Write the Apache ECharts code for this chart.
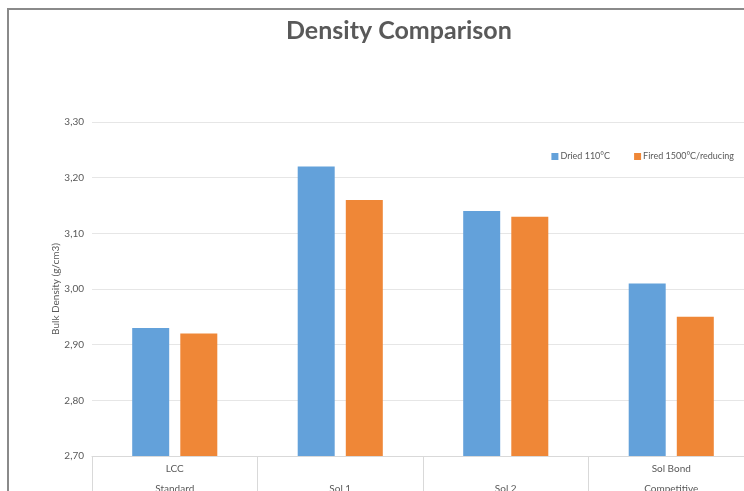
<!DOCTYPE html>
<html>
<head>
<meta charset="utf-8">
<script src="https://cdn.jsdelivr.net/npm/echarts@6/dist/echarts.min.js"></script>
<style>
  html, body { margin: 0; padding: 0; background: #fff; overflow: hidden; }
  #chart { width: 754px; height: 491px; }
</style>
</head>
<body>
<div id="chart"></div>
<script>
const categories = ["LCC\n\nStandard", "\n\nSol 1", "\n\nSol 2", "Sol Bond\n\nCompetitive"];
const dried = [2.93, 3.22, 3.14, 3.01];
const fired = [2.92, 3.16, 3.13, 2.95];
const seriesNames = ["Dried 110°C", "Fired 1500°C/reducing"];

const textColor = "#595959";
const fontFamily = "Lato, 'Open Sans', sans-serif";

const chart = echarts.init(document.getElementById("chart"));

chart.setOption({
  animation: false,
  color: ["#63A1DA", "#EF8737"],
  textStyle: { fontFamily: fontFamily },
  title: {
    text: "Density Comparison",
    left: 281,
    top: 13,
    textStyle: { fontSize: 25, fontWeight: "bold", color: textColor, fontFamily: fontFamily }
  },
  graphic: [{
    type: "rect",
    shape: { x: 8, y: 9, width: 900, height: 700 },
    style: { fill: null, stroke: "#8a8a8a", lineWidth: 2 },
    silent: true
  }],
  legend: {
    right: 15,
    top: 147,
    width: 300,
    itemWidth: 7,
    itemHeight: 7,
    itemGap: 24,
    icon: "rect",
    textStyle: { fontSize: 9, color: textColor, padding: [0, 0, 0, -3] },
    data: seriesNames
  },
  grid: { left: 92, right: 0, top: 122, bottom: 35, containLabel: false, outerBoundsMode: "none" },
  xAxis: {
    type: "category",
    data: categories,
    axisLine: { lineStyle: { color: "#d9d9d9" } },
    axisTick: { show: true, length: 40, lineStyle: { color: "#d9d9d9" } },
    axisLabel: { color: textColor, fontSize: 10, lineHeight: 10, margin: 8, interval: 0 }
  },
  yAxis: {
    type: "value",
    min: 2.7,
    max: 3.3,
    interval: 0.1,
    name: "Bulk Density (g/cm3)",
    nameLocation: "middle",
    nameGap: 31,
    nameMoveOverlap: false,
    nameTextStyle: { color: textColor, fontSize: 10 },
    axisLine: { show: false },
    axisTick: { show: false },
    splitLine: { lineStyle: { color: "#e6e6e6" } },
    axisLabel: {
      color: textColor,
      fontSize: 10,
      margin: 8,
      formatter: v => v.toFixed(2).replace(".", ",")
    }
  },
  series: [
    { name: seriesNames[0], type: "bar", data: dried, barWidth: 37, barGap: "30%" },
    { name: seriesNames[1], type: "bar", data: fired, barWidth: 37, barGap: "30%" }
  ]
});

window.addEventListener("resize", () => chart.resize());
</script>
</body>
</html>
